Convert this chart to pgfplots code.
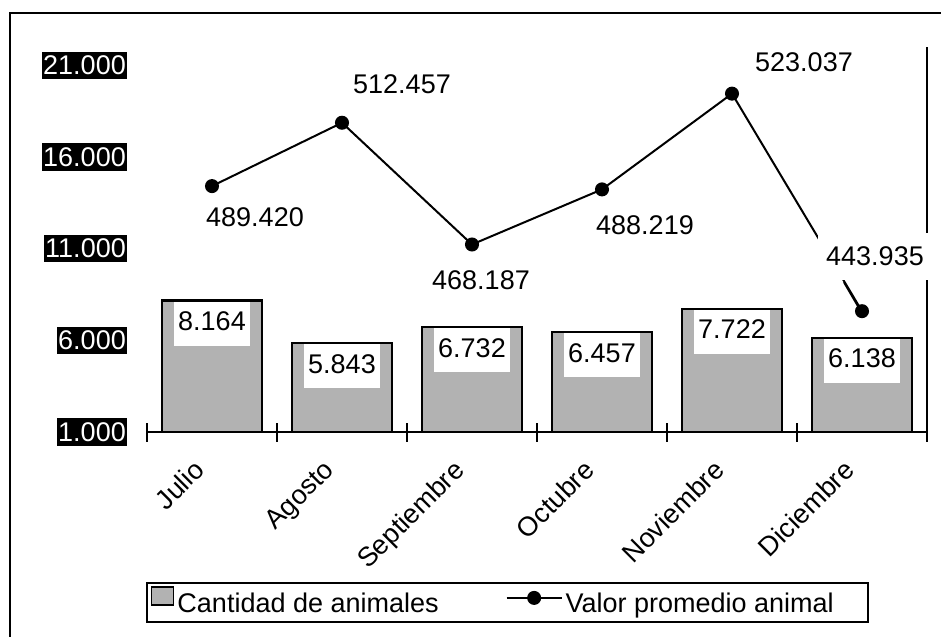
\documentclass[border=0pt]{standalone}
\usepackage{fontspec}
\setmainfont{Liberation Sans}
\usepackage{pgfplots}
\pgfplotsset{compat=1.18}
\usepackage{pgfplotstable}
\definecolor{barfill}{RGB}{178,178,178}

\pgfplotstableread{
x y lab
0 8164 8.164
1 5843 5.843
2 6732 6.732
3 6457 6.457
4 7722 7.722
5 6138 6.138
}\barsdata

\pgfplotstableread{
x y lab dx dy
0 489.420 489.420 43 -31
1 512.457 512.457 60 39
2 468.187 468.187 9 -36
3 488.219 488.219 43 -36
4 523.037 523.037 72 31.5
5 443.935 443.935 13 55
}\linedata

\begin{document}
\fontsize{27bp}{32bp}\selectfont
\begin{tikzpicture}
\useasboundingbox (-147bp,-205bp) rectangle (794bp,432bp);
\draw[line width=2.5bp] (-137bp,-240bp) rectangle (830bp,419bp);
\begin{axis}[
  at={(0,0)}, anchor=south west,
  scale only axis, width=780bp, height=385bp,
  xmin=-0.5, xmax=5.5, ymin=1000, ymax=22000,
  scaled y ticks=false,
  axis x line*=bottom, axis y line*=left,
  y axis line style={draw=none},
  x axis line style={line width=2.5bp, black},
  xtick={0,...,5},
  xticklabels={Julio,Agosto,Septiembre,Octubre,Noviembre,Diciembre},
  minor xtick={-0.5,0.5,...,5.5},
  major tick length=0pt, minor tick length=19bp, tick align=center,
  every minor tick/.append style={line width=2.5bp, black},
  ytick={1000,6000,11000,16000,21000},
  yticklabels={1.000,6.000,11.000,16.000,21.000},
  yticklabel style={fill=black, text=white, inner xsep=1bp, inner ysep=4bp, anchor=east, xshift=-20bp},
  xticklabel style={xshift=-20bp, yshift=-26bp, rotate=45, anchor=north east, inner sep=0pt},
  legend style={at={(-0.0013,-0.39)}, anchor=north west, draw=black, line width=2bp,
    inner xsep=4bp, inner ysep=3bp, legend columns=2,
    /tikz/every odd column/.append style={column sep=1bp},
    /tikz/every even column/.append style={column sep=65bp},
    nodes={inner sep=2bp}},
  legend cell align=left,
  clip=false,
]
\addplot[ybar, bar width=0.769, fill=barfill, draw=black, line width=2.5bp,
  nodes near coords, point meta=explicit symbolic,
  every node near coord/.append style={anchor=north, fill=white, text=black, inner xsep=4bp, inner ysep=10bp, text depth=5bp},
  legend image code/.code={\draw[fill=barfill, draw=black, line width=1.5bp] (0bp,0bp) rectangle (22bp,18bp);}
] table[x=x, y=y, meta=lab] {\barsdata};
\addlegendentry{Cantidad de animales}
\addlegendimage{legend image code/.code={\draw[line width=2bp, black, mark=*, mark size=6bp, mark options={fill=black}, mark repeat=2, mark phase=2] plot coordinates {(0bp,7bp) (27.5bp,7bp) (55bp,7bp)};}}
\addlegendentry{Valor promedio animal\hspace*{28bp}}
\end{axis}
\begin{axis}[
  at={(0,0)}, anchor=south west,
  scale only axis, width=780bp, height=385bp,
  xmin=-0.5, xmax=5.5, ymin=400, ymax=540,
  axis x line=none, axis y line*=right,
  ytick=\empty,
  y axis line style={line width=2.5bp, black},
  clip=false,
]
\addplot[black, line width=2bp, mark=*, mark size=6bp,
  nodes near coords, point meta=explicit symbolic,
  visualization depends on={\thisrow{dx} \as \lblx},
  visualization depends on={\thisrow{dy} \as \lbly},
  every node near coord/.append style={anchor=center, fill=white, text=black, inner xsep=8bp, inner ysep=14bp, xshift=\lblx bp, yshift=\lbly bp},
] table[x=x, y=y, meta=lab] {\linedata};
\draw[line width=2bp] ([shift={(-4bp,5bp)}]axis cs:5,443.935) -- ([shift={(-18bp,29bp)}]axis cs:5,443.935);
\end{axis}
\end{tikzpicture}
\end{document}
